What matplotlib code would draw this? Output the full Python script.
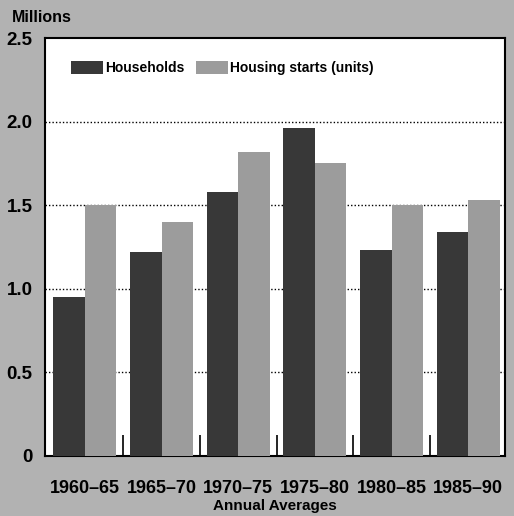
import numpy as np
import matplotlib.pyplot as plt

plt.rcParams['font.family'] = ['Liberation Sans', 'DejaVu Sans']
plt.rcParams['font.weight'] = 'bold'

# annual averages, millions
periods = ['1960\u201365', '1965\u201370', '1970\u201375', '1975\u201380', '1980\u201385', '1985\u201390']
households = [0.95, 1.22, 1.58, 1.96, 1.23, 1.34]
housing_starts = [1.50, 1.40, 1.82, 1.75, 1.50, 1.53]

bg = '#b2b2b2'
dark = '#383838'
light = '#9c9c9c'

fig = plt.figure(figsize=(5.14, 5.16), dpi=100, facecolor=bg)
ax = fig.add_axes([0.0875, 0.1163, 0.895, 0.810])
ax.set_facecolor('white')

x = np.arange(len(periods))
w = 0.41
ax.bar(x - w / 2, households, w, color=dark, label='Households', zorder=3)
ax.bar(x + w / 2, housing_starts, w, color=light, label='Housing starts (units)', zorder=3)

ax.set_xlim(-0.52, 5.48)
ax.set_ylim(0, 2.5)
ax.set_yticks([0, 0.5, 1.0, 1.5, 2.0, 2.5])
ax.set_yticklabels(['0', '0.5', '1.0', '1.5', '2.0', '2.5'], fontsize=13.5, fontweight='bold')
ax.tick_params(axis='y', length=0, pad=9)

# small inward ticks between the groups
ax.set_xticks(x[:-1] + 0.5, minor=True)
ax.tick_params(axis='x', which='minor', direction='in', length=15, width=1.2, color='black')
ax.set_xticks(x)
ax.set_xticklabels(periods, fontsize=13, fontweight='bold')
ax.tick_params(axis='x', which='major', length=0, pad=17)

for yv in [0.5, 1.0, 1.5, 2.0]:
    ax.axhline(yv, color='black', linestyle=(0, (1, 1.5)), linewidth=1.0, zorder=2)

for s in ax.spines.values():
    s.set_linewidth(1.5)
    s.set_color('black')

ax.set_xlabel('Annual Averages', fontsize=11, fontweight='bold', labelpad=2)
fig.text(0.023, 0.967, 'Millions', fontsize=11.5, fontweight='bold', ha='left', va='center')

leg = ax.legend(loc='upper left', bbox_to_anchor=(0.03, 0.975), ncol=2, frameon=False,
                fontsize=10, handlelength=2.3, handleheight=1.1, handletextpad=0.15,
                columnspacing=0.8)
for t in leg.get_texts():
    t.set_fontweight('bold')

fig.savefig('out.png', dpi=100, facecolor=bg)
